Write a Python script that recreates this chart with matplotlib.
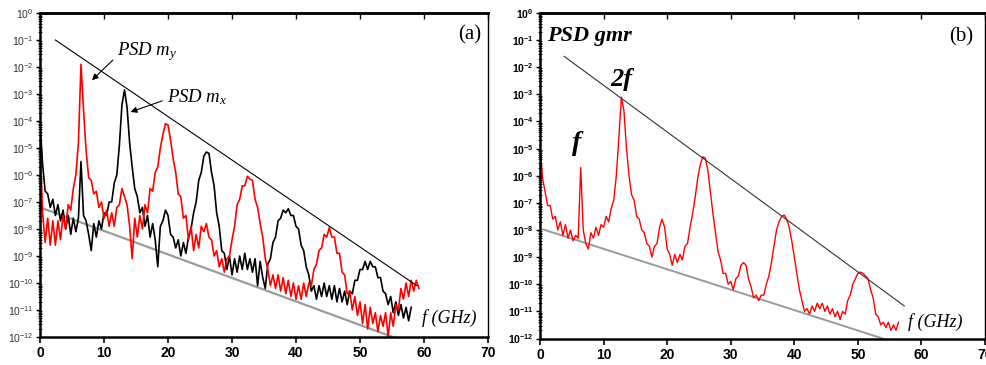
import numpy as np
import matplotlib.pyplot as plt
from matplotlib.ticker import LogLocator, FuncFormatter, NullFormatter, MultipleLocator

plt.rcParams['mathtext.fontset'] = 'custom'
plt.rcParams['mathtext.rm'] = 'Liberation Serif'
plt.rcParams['mathtext.it'] = 'Liberation Serif:italic'
plt.rcParams['mathtext.bf'] = 'Liberation Sans:bold'
plt.rcParams['mathtext.sf'] = 'Liberation Sans'

# sample spacing of the spectra (GHz)
step = 0.4

# panel (a): log10 PSD of m_y (red), every 0.4 GHz
psd_my_log = [
    -5.0, -7.4, -8.5, -7.6, -8.6, -7.7, -8.6, -7.7, -8.4, -7.5,
    -8.0, -7.1, -7.3, -6.5, -6.0, -4.8, -1.9, -3.6, -5.1, -6.1,
    -6.2, -6.7, -6.6, -7.2, -7.0, -7.6, -7.3, -7.9, -7.4, -7.9,
    -7.2, -7.1, -6.5, -6.8, -7.1, -7.9, -9.1, -7.6, -8.3, -7.5,
    -8.0, -7.1, -7.4, -6.5, -6.6, -5.9, -5.7, -5.0, -4.5, -4.1,
    -4.15, -4.7, -5.4, -5.9, -6.7, -6.8, -7.6, -7.5, -8.4, -7.9,
    -8.8, -8.2, -8.7, -7.9, -8.1, -7.8, -8.3, -8.4, -9.0, -8.8,
    -9.4, -9.1, -9.6, -9.1, -9.0, -8.4, -7.9, -7.1, -6.9, -6.4,
    -6.4, -6.05, -6.15, -6.2, -6.9, -7.2, -7.8, -8.3, -9.1, -9.5,
    -10.1, -9.7, -10.2, -9.7, -10.3, -9.8, -10.4, -9.9, -10.5, -10.0,
    -10.6, -10.1, -10.6, -10.0, -10.5, -10.0, -10.1, -9.5, -9.3, -8.8,
    -8.7, -8.2, -8.3, -7.95, -8.3, -8.3, -8.9, -8.9, -9.6, -9.7,
    -10.4, -10.3, -11.0, -10.5, -11.2, -10.7, -11.5, -10.8, -11.7, -10.9,
    -11.5, -11.1, -11.8, -11.2, -11.6, -11.1, -12.0, -11.1, -11.6, -10.8,
    -11.0, -10.2, -10.6, -10.0, -10.5, -9.9, -10.3, -9.9, -10.2,
]

# panel (a): log10 PSD of m_x (black)
psd_mx_log = [
    -4.1, -5.6, -6.6, -6.7, -7.2, -6.9, -7.5, -7.1, -7.7, -7.3,
    -8.0, -7.5, -8.2, -7.6, -8.1, -7.6, -5.5, -7.5, -7.7, -8.2,
    -8.8, -7.8, -8.3, -7.7, -8.0, -7.4, -7.5, -7.0, -7.0, -6.3,
    -6.0, -4.9, -3.4, -2.85, -3.5, -4.8, -5.7, -6.5, -6.8, -7.4,
    -7.2, -7.9, -7.5, -8.3, -7.8, -8.4, -9.4, -7.9, -7.7, -7.3,
    -7.5, -8.2, -8.3, -8.7, -8.4, -9.0, -8.5, -8.9, -8.3, -8.0,
    -7.4, -7.0, -6.2, -5.9, -5.3, -5.15, -5.2, -5.9, -6.4, -7.4,
    -7.9, -8.8, -8.9, -9.5, -9.0, -9.7, -9.1, -9.6, -9.0, -9.5,
    -8.9, -9.5, -9.1, -9.6, -9.1, -10.1, -9.2, -9.8, -10.2, -9.3,
    -9.1, -8.5, -8.3, -7.7, -7.6, -7.3, -7.4, -7.25, -7.5, -7.5,
    -7.9, -8.0, -8.6, -8.8, -9.4, -9.7, -10.3, -10.1, -10.6, -10.1,
    -10.5, -10.0, -10.5, -10.1, -10.6, -10.1, -10.7, -10.2, -10.7, -10.3,
    -10.8, -10.3, -10.4, -9.9, -9.9, -9.5, -9.5, -9.2, -9.5, -9.2,
    -9.4, -9.4, -9.8, -9.8, -10.3, -10.4, -10.8, -10.5, -11.1, -10.7,
    -11.2, -10.8, -11.3, -10.9, -11.4, -10.9,
]

# panel (b): log10 PSD of the gmr signal (red)
psd_gmr_log = [
    -4.9, -6.1, -6.6, -7.1, -7.1, -7.6, -7.5, -8.0, -7.7, -8.2,
    -7.8, -8.3, -8.0, -8.4, -8.2, -8.3, -5.7, -8.0, -8.5, -8.7,
    -8.1, -8.3, -7.9, -8.2, -7.8, -7.9, -7.5, -7.7, -7.2, -6.9,
    -6.0, -4.6, -3.1, -3.6, -5.0, -6.0, -6.7, -6.9, -7.5, -7.6,
    -8.0, -8.1, -8.5, -8.6, -9.0, -8.6, -8.5, -7.9, -7.6, -7.9,
    -8.7, -8.9, -9.3, -8.9, -9.2, -8.9, -9.1, -8.6, -8.5, -7.9,
    -7.4, -6.8, -6.1, -5.6, -5.3, -5.35, -5.8, -6.6, -7.4, -8.1,
    -8.8, -9.1, -9.6, -9.6, -10.0, -9.9, -10.2, -9.8, -9.7, -9.3,
    -9.2, -9.3, -9.8, -10.1, -10.5, -10.4, -10.6, -10.4, -10.4, -10.0,
    -9.7, -9.2, -8.6, -8.0, -7.7, -7.5, -7.45, -7.6, -7.9, -8.4,
    -9.0, -9.6, -10.2, -10.6, -11.0, -10.9, -11.1, -10.8, -11.0, -10.7,
    -10.9, -10.7, -11.0, -10.8, -11.1, -10.9, -11.2, -11.0, -11.3, -11.0,
    -11.1, -10.6, -10.4, -10.0, -9.8, -9.6, -9.55, -9.6, -9.7, -9.8,
    -10.2, -10.5, -11.1, -11.2, -11.5, -11.4, -11.6, -11.4, -11.7, -11.5,
    -11.7, -11.4,
]

# guide lines (end points, GHz and log10 PSD)
upper_a_f, upper_a_log = [2.4, 58.9], [-1.0, -10.1]
lower_a_f, lower_a_log = [0.0, 55.7], [-7.2, -12.05]
upper_b_f, upper_b_log = [3.8, 57.3], [-1.6, -10.8]
lower_b_f, lower_b_log = [0.5, 53.9], [-7.98, -12.0]


def freqs(vals):
    return step * np.arange(len(vals))


def style_axes(ax, ylab_bold, ylab_color):
    ax.set_yscale('log')
    ax.set_xlim(0, 70)
    ax.set_ylim(1e-12, 1)
    ax.xaxis.set_major_locator(MultipleLocator(10))
    ax.yaxis.set_major_locator(LogLocator(base=10, numticks=20))
    ax.yaxis.set_minor_locator(LogLocator(base=10, subs=np.arange(2, 10), numticks=200))
    ax.yaxis.set_minor_formatter(NullFormatter())
    if ylab_bold:
        fmt = lambda v, p: r'$\mathbf{10^{%d}}$' % round(np.log10(v))
    else:
        fmt = lambda v, p: r'$\mathsf{10^{%d}}$' % round(np.log10(v))
    ax.yaxis.set_major_formatter(FuncFormatter(fmt))
    ax.tick_params(axis='x', which='major', direction='out', bottom=True, top=False,
                   length=4, width=1.2, labelsize=10, pad=2.5)
    ax.tick_params(axis='y', which='major', direction='out', left=True, right=False,
                   length=3, width=1, labelsize=7.5, pad=1.5, labelcolor=ylab_color)
    ax.tick_params(axis='y', which='minor', direction='inout', left=True, right=False,
                   length=2.5, width=0.6)
    # inward ticks on the top edge
    top = ax.secondary_xaxis('top')
    top.xaxis.set_major_locator(MultipleLocator(10))
    top.tick_params(direction='in', length=4, width=1, labeltop=False)
    top.spines['top'].set_linewidth(1.8)
    for lab in ax.get_xticklabels():
        lab.set_fontweight('bold')
        lab.set_family('Liberation Sans')
    ax.spines['left'].set_linewidth(1.8)
    ax.spines['bottom'].set_linewidth(1.8)
    ax.spines['top'].set_linewidth(1.8)
    ax.spines['right'].set_linewidth(1.0)


fig = plt.figure(figsize=(9.86, 3.65), dpi=100)
ax_a = fig.add_axes([0.0406, 0.0767, 0.4543, 0.8877])
ax_b = fig.add_axes([0.5477, 0.0726, 0.4513, 0.8918])

serif = 'Liberation Serif'

# ---- panel (a)
ax_a.plot(upper_a_f, 10.0 ** np.array(upper_a_log), color='black', lw=0.8, zorder=3)
ax_a.plot(lower_a_f, 10.0 ** np.array(lower_a_log), color='#9a9a9a', lw=1.6, zorder=1)
ax_a.plot(freqs(psd_mx_log), 10.0 ** np.array(psd_mx_log), color='black', lw=1.2, zorder=2)
ax_a.plot(freqs(psd_my_log), 10.0 ** np.array(psd_my_log), color='#ff0000', lw=1.2, zorder=2)

arrow = dict(arrowstyle='-|>', color='black', lw=0.8, mutation_scale=9)
ax_a.annotate('', xy=(7.8, 10 ** -2.56), xytext=(11.7, 10 ** -1.67), arrowprops=arrow)
ax_a.annotate('', xy=(13.75, 10 ** -3.7), xytext=(19.5, 10 ** -3.22), arrowprops=arrow)
ax_a.text(12.0, 10 ** -1.56, r'$PSD\ m_y$', fontsize=13.5, ha='left', va='baseline')
ax_a.text(19.9, 10 ** -3.3, r'$PSD\ m_x$', fontsize=13.5, ha='left', va='baseline')
ax_a.text(69.0, 10 ** -0.8, '(a)', family=serif, fontsize=15, ha='right', va='center')
ax_a.text(59.7, 10 ** -11.3, 'f (GHz)', family=serif, style='italic', fontsize=13,
          ha='left', va='center')
style_axes(ax_a, False, '#333333')

# ---- panel (b)
ax_b.plot(upper_b_f, 10.0 ** np.array(upper_b_log), color='#333333', lw=0.8, zorder=3)
ax_b.plot(lower_b_f, 10.0 ** np.array(lower_b_log), color='#9a9a9a', lw=1.4, zorder=1)
ax_b.plot(freqs(psd_gmr_log), 10.0 ** np.array(psd_gmr_log), color='#ff0000', lw=1.0, zorder=2)

ax_b.text(1.1, 10 ** -1.03, 'PSD gmr', family=serif, style='italic', fontweight='bold',
          fontsize=16, ha='left', va='baseline')
ax_b.text(12.8, 10 ** -2.47, '2f', family=serif, style='italic', fontweight='bold',
          fontsize=19, ha='center', va='center')
ax_b.text(5.7, 10 ** -4.8, 'f', family=serif, style='italic', fontweight='bold',
          fontsize=20, ha='center', va='center')
ax_b.text(68.1, 10 ** -0.89, '(b)', family=serif, fontsize=15, ha='right', va='center')
ax_b.text(57.9, 10 ** -11.4, 'f (GHz)', family=serif, style='italic', fontsize=13,
          ha='left', va='center')
style_axes(ax_b, True, 'black')

fig.savefig('out.png', dpi=100)
